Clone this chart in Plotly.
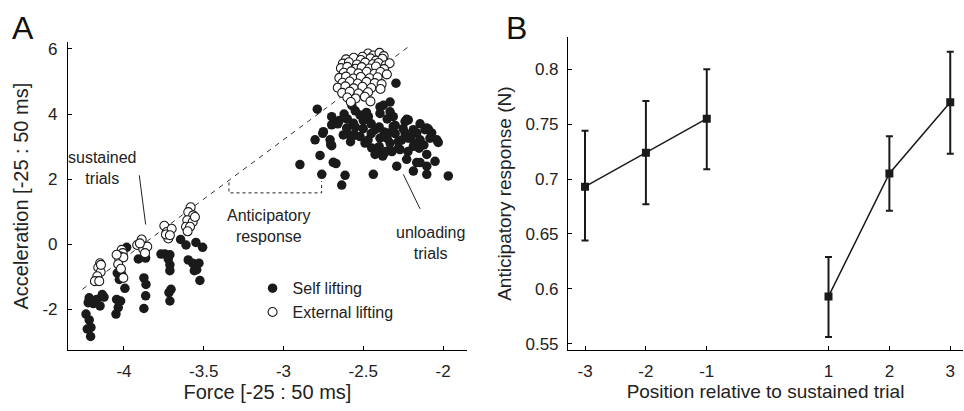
import plotly.graph_objects as go

# ---------------- Panel A data ----------------
self_x = [-4.238, -4.218, -4.207, -4.209, -4.230, -4.224, -4.218, -4.192, -4.171, -4.150, -4.125, -4.136,
          -4.046, -4.021, -4.036, -4.050, -3.994, -4.029, -4.042, -4.014, -3.983,
          -3.910, -3.864, -3.875, -3.862, -3.864, -3.875,
          -3.768, -3.743, -3.712, -3.722, -3.712, -3.712, -3.705, -3.718, -3.712,
          -3.645, -3.611, -3.549, -3.507, -3.597, -3.569, -3.559, -3.530, -3.544, -3.524,
          -2.295, -2.788, -2.572, -2.698, -2.677, -2.750, -2.802, -2.708, -2.698, -2.771, -2.897, -2.688,
          -2.760, -2.614, -2.635, -2.437, -2.290, -2.165, -1.967, -2.102, -2.039, -2.071, -2.102, -2.228,
          -2.186, -2.395, -2.332,
          -2.698, -2.650, -2.754, -2.704, -2.671, -2.604, -2.583, -2.562, -2.520, -2.489, -2.447, -2.468,
          -2.426, -2.395, -2.426, -2.378, -2.353, -2.395, -2.520, -2.625,
          -2.312, -2.238, -2.144, -2.113, -2.082, -2.030, -2.343, -2.280, -2.218, -2.144, -2.186, -2.270,
          -2.374, -2.102, -2.228, -2.144, -2.186, -2.050, -2.102, -2.332, -2.238, -2.165, -2.312, -2.332,
          -2.374, -2.218, -2.092,
          -2.60, -2.55, -2.50, -2.45, -2.40, -2.35, -2.30, -2.25, -2.20, -2.18, -2.35, -2.40, -2.45, -2.50,
          -2.55, -2.58, -2.47, -2.28, -2.22, -2.32, -2.15, -2.48, -2.55, -2.62, -2.66, -2.30, -2.26, -2.42,
          -2.12, -2.37]
self_y = [-2.14, -2.32, -2.55, -2.83, -2.60, -1.79, -1.64, -1.82, -1.69, -1.89, -1.62, -1.54,
          -1.69, -1.74, -1.94, -2.14, -1.35, -1.08, -0.88, -0.93, -0.09,
          -0.45, -0.42, -1.03, -1.23, -1.58, -1.97,
          -0.30, -0.30, -0.32, -0.45, -0.63, -0.81, -1.38, -1.48, -1.74,
          0.15, -0.02, 0.06, -0.09, -0.48, -0.58, -0.81, -0.58, -0.78, -1.11,
          4.95, 4.15, 4.27, 3.92, 3.77, 3.46, 3.21, 3.21, 3.03, 2.73, 2.45, 2.52,
          2.15, 2.12, 1.82, 2.15, 2.40, 2.51, 2.10, 2.40, 3.21, 3.42, 3.57, 3.84,
          3.52, 4.22, 4.07,
          3.67, 3.80, 3.41, 3.06, 2.48, 3.57, 3.36, 3.72, 3.31, 3.11, 2.96, 3.92,
          3.52, 3.26, 2.76, 2.71, 2.86, 4.02, 3.97, 3.36,
          3.92, 3.77, 3.70, 3.52, 3.26, 3.13, 3.42, 3.16, 3.26, 3.21, 3.01, 2.91,
          2.76, 2.76, 2.61, 2.51, 2.25, 2.55, 2.15, 3.11, 3.42, 3.42, 3.62, 4.37,
          4.27, 3.82, 3.54,
          3.85, 3.60, 3.80, 3.70, 3.60, 3.85, 3.40, 3.55, 3.30, 3.10, 3.25, 3.00, 3.40, 3.55,
          3.35, 3.15, 3.20, 2.95, 2.85, 2.85, 2.95, 4.05, 4.10, 4.00, 3.70, 3.65, 3.20, 2.80,
          3.05, 3.45]

ext_x = [-4.150, -4.161, -4.146, -4.167, -4.182, -4.155, -4.144,
         -4.014, -4.008, -4.025, -4.029, -4.004, -4.036, -4.019, -4.004, -4.046,
         -3.917, -3.889, -3.879, -3.854, -3.868, -3.900,
         -3.747, -3.732, -3.722, -3.701, -3.737, -3.712,
         -3.582, -3.597, -3.566, -3.603, -3.569, -3.611, -3.586, -3.555, -3.601,
         -2.470, -2.438, -2.398, -2.372, -2.505,
         -2.608, -2.560, -2.515, -2.455, -2.420, -2.380,
         -2.628, -2.590, -2.540, -2.488, -2.440, -2.405, -2.360, -2.335,
         -2.640, -2.600, -2.548, -2.510, -2.462, -2.420, -2.370,
         -2.622, -2.575, -2.530, -2.478, -2.430, -2.392, -2.352,
         -2.650, -2.608, -2.562, -2.515, -2.460, -2.410,
         -2.630, -2.585, -2.535, -2.480, -2.428, -2.385,
         -2.660, -2.612, -2.560, -2.505, -2.450, -2.392,
         -2.632, -2.585, -2.530, -2.470,
         -2.600, -2.548, -2.490,
         -2.578, -2.455]
ext_y = [-0.58, -0.71, -0.85, -0.98, -1.13, -1.13, -0.63,
         -0.17, -0.27, -0.37, -0.45, -0.40, -0.61, -0.75, -1.03, -0.32,
         -0.02, 0.15, -0.14, -0.07, -0.27, 0.03,
         0.57, 0.38, 0.18, 0.48, 0.30, 0.28,
         1.14, 0.99, 0.89, 0.74, 0.69, 0.54, 0.54, 0.84, 0.40,
         5.86, 5.80, 5.88, 5.78, 5.76,
         5.68, 5.73, 5.66, 5.71, 5.64, 5.70,
         5.55, 5.59, 5.52, 5.58, 5.53, 5.57, 5.50, 5.56,
         5.41, 5.45, 5.39, 5.44, 5.40, 5.46, 5.38,
         5.27, 5.31, 5.25, 5.30, 5.24, 5.29, 5.22,
         5.11, 5.15, 5.09, 5.14, 5.10, 5.13,
         4.96, 5.00, 4.94, 4.99, 4.95, 4.92,
         4.81, 4.85, 4.79, 4.84, 4.80, 4.77,
         4.65, 4.69, 4.63, 4.67,
         4.51, 4.48, 4.53,
         4.37, 4.39]

# dashed reference line, endpoints in data units
ref_x = [-4.26, -2.21]
ref_y = [-1.38, 6.09]

a_xticks = [-4, -3.5, -3, -2.5, -2]
a_xticktext = ["-4", "-3.5", "-3", "-2.5", "-2"]
a_yticks = [-2, 0, 2, 4, 6]
a_yticktext = ["-2", "0", "2", "4", "6"]

# ---------------- Panel B data ----------------
pos_before = [-3, -2, -1]
resp_before = [0.693, 0.724, 0.755]
err_hi_before = [0.051, 0.047, 0.045]
err_lo_before = [0.049, 0.047, 0.046]

pos_after = [1, 2, 3]
resp_after = [0.593, 0.705, 0.770]
err_hi_after = [0.036, 0.034, 0.046]
err_lo_after = [0.037, 0.034, 0.047]

b_xticks = [-3, -2, -1, 1, 2, 3]
b_xticktext = ["-3", "-2", "-1", "1", "2", "3"]
b_yticks = [0.55, 0.6, 0.65, 0.7, 0.75, 0.8]
b_yticktext = ["0.55", "0.6", "0.65", "0.7", "0.75", "0.8"]

FONT = "Liberation Sans, Arial, sans-serif"
INK = "#1a1a1a"

fig = go.Figure()

fig.add_trace(go.Scatter(x=ref_x, y=ref_y, mode="lines",
                         line=dict(color="#333333", width=1, dash="5px,5px"),
                         showlegend=False, hoverinfo="skip", xaxis="x", yaxis="y"))
fig.add_trace(go.Scatter(x=self_x, y=self_y, mode="markers", name="Self lifting",
                         marker=dict(symbol="circle", size=9.5, color=INK, line=dict(width=0)),
                         xaxis="x", yaxis="y"))
fig.add_trace(go.Scatter(x=ext_x, y=ext_y, mode="markers", name="External lifting",
                         marker=dict(symbol="circle", size=9, color="white",
                                     line=dict(width=1.1, color=INK)),
                         xaxis="x", yaxis="y"))

for px_, py_, hi, lo in [(pos_before, resp_before, err_hi_before, err_lo_before),
                         (pos_after, resp_after, err_hi_after, err_lo_after)]:
    fig.add_trace(go.Scatter(x=px_, y=py_, mode="lines+markers", showlegend=False,
                             line=dict(color=INK, width=1.5),
                             marker=dict(symbol="square", size=8, color=INK),
                             error_y=dict(type="data", symmetric=False, array=hi, arrayminus=lo,
                                          color=INK, thickness=2, width=3.5),
                             xaxis="x2", yaxis="y2"))

axis_common = dict(showline=True, linecolor="black", linewidth=1, mirror=False,
                   showgrid=False, zeroline=False, ticks="inside", ticklen=4,
                   tickcolor="black", tickwidth=1,
                   tickfont=dict(family=FONT, size=17, color="#222"))

fig.update_layout(
    width=964, height=411,
    margin=dict(l=0, r=0, t=0, b=0),
    paper_bgcolor="white", plot_bgcolor="white",
    font=dict(family=FONT, color="#222"),
    xaxis=dict(domain=[0.0705, 0.4844], range=[-4.351, -1.85],
               tickmode="array", tickvals=a_xticks, ticktext=a_xticktext,
               ticklabelstandoff=6,
               title=dict(text="Force [-25 : 50 ms]", font=dict(size=20), standoff=4),
               anchor="y", **axis_common),
    yaxis=dict(domain=[0.1411, 0.9002], range=[-3.24, 6.2],
               tickmode="array", tickvals=a_yticks, ticktext=a_yticktext,
               ticklabelstandoff=6,
               title=dict(text="Acceleration [-25 : 50 ms]", font=dict(size=20), standoff=8),
               anchor="x", **axis_common),
    xaxis2=dict(domain=[0.5892, 0.999], range=[-3.28, 3.21],
                tickmode="array", tickvals=b_xticks, ticktext=b_xticktext,
                ticklabelstandoff=6,
                title=dict(text="Position relative to sustained trial", font=dict(size=19), standoff=4),
                anchor="y2", **axis_common),
    yaxis2=dict(domain=[0.1411, 0.9124], range=[0.5443, 0.829],
                tickmode="array", tickvals=b_yticks, ticktext=b_yticktext,
                ticklabelstandoff=5,
                title=dict(text="Anticipatory response (N)", font=dict(size=19), standoff=8),
                anchor="x2", **axis_common),
    legend=dict(x=0.262, y=0.335, xanchor="left", yanchor="top",
                bgcolor="rgba(0,0,0,0)", borderwidth=0, itemwidth=30,
                font=dict(family=FONT, size=16, color="#222"),
                tracegroupgap=4),
    showlegend=True,
)

# panel letters
fig.add_annotation(text="A", xref="paper", yref="paper", x=0.0105, y=0.985,
                   xanchor="left", yanchor="top", showarrow=False,
                   font=dict(family=FONT, size=32, color="#111"))
fig.add_annotation(text="B", xref="paper", yref="paper", x=0.523, y=0.985,
                   xanchor="left", yanchor="top", showarrow=False,
                   font=dict(family=FONT, size=32, color="#111"))

# text annotations in panel A
fig.add_annotation(text="sustained<br>trials", xref="x", yref="y", x=-4.133, y=2.35,
                   showarrow=False, font=dict(family=FONT, size=16, color="#222"), align="center")
fig.add_annotation(text="Anticipatory<br>response", xref="x", yref="y", x=-3.09, y=0.55,
                   showarrow=False, font=dict(family=FONT, size=16, color="#222"), align="center")
fig.add_annotation(text="unloading<br>trials", xref="x", yref="y", x=-2.08, y=0.05,
                   showarrow=False, font=dict(family=FONT, size=16, color="#222"), align="center")

# pointer lines and bracket
fig.add_shape(type="line", xref="x", yref="y", x0=-3.904, y0=2.12, x1=-3.864, y1=0.61,
              line=dict(color="#222", width=1))
fig.add_shape(type="line", xref="x", yref="y", x0=-2.249, y0=2.15, x1=-2.144, y1=1.09,
              line=dict(color="#222", width=1))
fig.add_shape(type="path", xref="x", yref="y",
              path="M -3.342 1.90 L -3.342 1.58 L -2.761 1.58 L -2.761 1.94",
              line=dict(color="#222", width=1, dash="dot"))

fig.write_html("out.html", config={"displayModeBar": False},
               post_script="document.body.style.margin='0';")
